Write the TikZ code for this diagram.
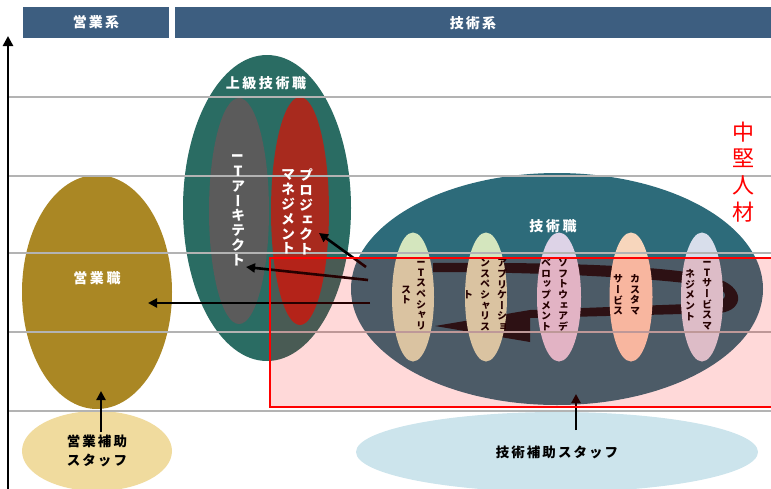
\documentclass[tikz,border=0pt]{standalone}
\usepackage{fontspec}
\usepackage{graphicx}
\setmainfont{Noto Sans CJK JP}
\newfontfamily\vjp{Noto Sans CJK JP}[RawFeature=+vert]
\usetikzlibrary{arrows.meta,shapes.geometric}
\definecolor{hdrblue}{HTML}{3D5E80}
\definecolor{eigyoc}{HTML}{AA8724}
\definecolor{hojoA}{HTML}{F0DB9E}
\definecolor{hojoB}{HTML}{CCE4EC}
\definecolor{jokyuc}{HTML}{2A6C63}
\definecolor{archc}{HTML}{5B5B5B}
\definecolor{pmc}{HTML}{A82A1E}
\definecolor{gijc}{HTML}{2D6B7A}
\definecolor{inA}{HTML}{D4E6BE}
\definecolor{inC}{HTML}{DDD3E7}
\definecolor{inD}{HTML}{F7D6BC}
\definecolor{inE}{HTML}{D8DEEB}
\definecolor{glinec}{HTML}{B3B3B3}
\makeatletter
\newcommand\tate[2][1.06]{\vbox{\vjp\baselineskip=#1em\lineskiplimit=-50pt\lineskip=0pt\tate@i#2\@nil}}
\def\tate@i#1{\ifx\@nil#1\else\hbox to 1em{\hss#1\hss}\expandafter\tate@i\fi}
\makeatother
\newcommand\rI{\rotatebox[origin=c]{-90}{I}}
\tikzset{
  hdr/.style={fill=hdrblue, text=white, inner sep=0pt, font=\bfseries\fontsize{14}{14}\selectfont\addfontfeature{LetterSpace=15}},
  ell/.style={ellipse, inner sep=0pt, draw=none},
  wlab/.style={text=white, inner sep=0pt, font=\bfseries\fontsize{14}{14}\selectfont\addfontfeature{LetterSpace=18}},
  wcol/.style={text=white, inner sep=0pt, font=\bfseries\fontsize{14}{14}\selectfont},
  bcol/.style={text=black, inner sep=0pt, font=\bfseries\fontsize{10}{10}\selectfont},
  blab/.style={text=black, inner sep=0pt, align=center, font=\bfseries\fontsize{13.5}{19}\selectfont\addfontfeature{LetterSpace=15}},
  gline/.style={draw=glinec, line width=2pt},
  arr/.style={draw=black, line width=2.6pt, -{Triangle[length=9pt,width=9pt]}},
}
\begin{document}
\begin{tikzpicture}[x=1pt,y=-1pt]
\useasboundingbox (0,0) rectangle (771,488);
\clip (0,0) rectangle (771,488);
% headers
\node[hdr, minimum width=146, minimum height=31] (h1) at (96,22.5) {営業系};
\node[hdr, minimum width=600, minimum height=31] (h2) at (475,22.5) {};
\node[hdr, fill=none] (h2t) at (473,23) {技術系};
% ellipses
\node[ell, fill=eigyoc, minimum width=150, minimum height=234] (eig) at (97,292) {};
\node[ell, fill=jokyuc, minimum width=168, minimum height=306] (jok) at (267,208) {};
\node[ell, fill=archc, minimum width=60, minimum height=226] (arch) at (239,211) {};
\node[ell, fill=pmc, minimum width=58, minimum height=228] (pm) at (300,211) {};
\node[ell, fill=gijc, minimum width=412, minimum height=232] (gij) at (557,289) {};
% ribbon arrow (behind inner ellipses)
\fill[black, opacity=0.8] (433,263)
  .. controls (560,262) and (680,266) .. (715,278)
  .. controls (745,286) and (745,310) .. (720,313)
  -- (530,318) -- (530,342) -- (435,326) -- (530,310) -- (715,303)
  .. controls (728,300) and (730,290) .. (712,287)
  .. controls (680,280) and (560,272) .. (433,272) -- cycle;
\node[ell, fill=inA, minimum width=42, minimum height=129] (in1) at (413,297) {};
\node[ell, fill=inA, minimum width=42, minimum height=129] (in2) at (486,297) {};
\node[ell, fill=inC, minimum width=44, minimum height=129] (in3) at (559,297) {};
\node[ell, fill=inD, minimum width=43, minimum height=129] (in4) at (631,297) {};
\node[ell, fill=inE, minimum width=42, minimum height=129] (in5) at (702,297) {};
\node[ell, fill=hojoA, minimum width=150, minimum height=80] (hoA) at (97,451) {};
\node[ell, fill=hojoB, minimum width=402, minimum height=80] (hoB) at (557,452) {};
% grid lines
\draw[gline] (9,97) -- (771,97);
\draw[gline] (9,175.5) -- (771,175.5);
\draw[gline] (9,253) -- (771,253);
\draw[gline] (9,332) -- (771,332);
\draw[gline] (9,411) -- (771,411);
% labels
\node[wlab] (l-jok) at (266,83) {上級技術職};
\node[wlab] (l-gij) at (553,226) {技術職};
\node[wlab] (l-eig) at (97,278) {営業職};
\node[wcol] (l-arch) at (238,210) {\tate{\rI Tアーキテクト}};
\node[wcol] (l-pm1) at (306,212) {\tate{プロジェクト}};
\node[wcol] (l-pm2) at (288,212) {\tate{マネジメント}};
\node[bcol] (t1a) at (421,295) {\tate{\rI Tスペシャリ}};
\node[bcol] (t1b) at (406,295) {\tate{スト}};
\node[bcol] (t2a) at (502,295) {\tate{アプリケーショ}};
\node[bcol] (t2b) at (485,295) {\tate{ンスペシャリス}};
\node[bcol] (t2c) at (468,295) {\tate{ト}};
\node[bcol] (t3a) at (563,295) {\tate{ソフトウェアデ}};
\node[bcol] (t3b) at (546,295) {\tate{ベロップメント}};
\node[bcol] (t4a) at (635,295) {\tate{カスタマ}};
\node[bcol] (t4b) at (618,295) {\tate{サービス}};
\node[bcol] (t5a) at (707,295) {\tate{\rI Tサービスマ}};
\node[bcol] (t5b) at (690,295) {\tate{ネジメント}};
\node[blab] (l-hoA) at (97,451) {営業補助\\スタッフ};
\node[blab] (l-hoB) at (557,452) {技術補助スタッフ};
\node[text=red, inner sep=0pt, font=\fontsize{22}{22}\selectfont] (chu) at (743,172) {\tate[1.22]{中堅人材}};
% arrows
\coordinate (a1s) at (370,303); \coordinate (a1e) at (148,303);
\coordinate (a2s) at (368,280); \coordinate (a2e) at (246,267);
\coordinate (a3s) at (366,267); \coordinate (a3e) at (319,233);
\coordinate (a4s) at (101,432); \coordinate (a4e) at (101,391);
\coordinate (a5s) at (576,430); \coordinate (a5e) at (576,394);
\draw[arr] (a1s) -- (a1e);
\draw[arr] (a2s) -- (a2e);
\draw[arr] (a3s) -- (a3e);
\draw[arr] (a4s) -- (a4e);
\draw[arr] (a5s) -- (a5e);
% overlay
\fill[red, fill opacity=0.15] (270,258) rectangle (785,407);
\draw[red, line width=1.6pt] (270,258) rectangle (785,407);
% axis
\coordinate (ax0) at (8,492); \coordinate (ax1) at (8,36);
\draw[line width=2.6pt, -{Triangle[length=10pt,width=10pt]}] (ax0) -- (ax1);
\end{tikzpicture}
\end{document}
